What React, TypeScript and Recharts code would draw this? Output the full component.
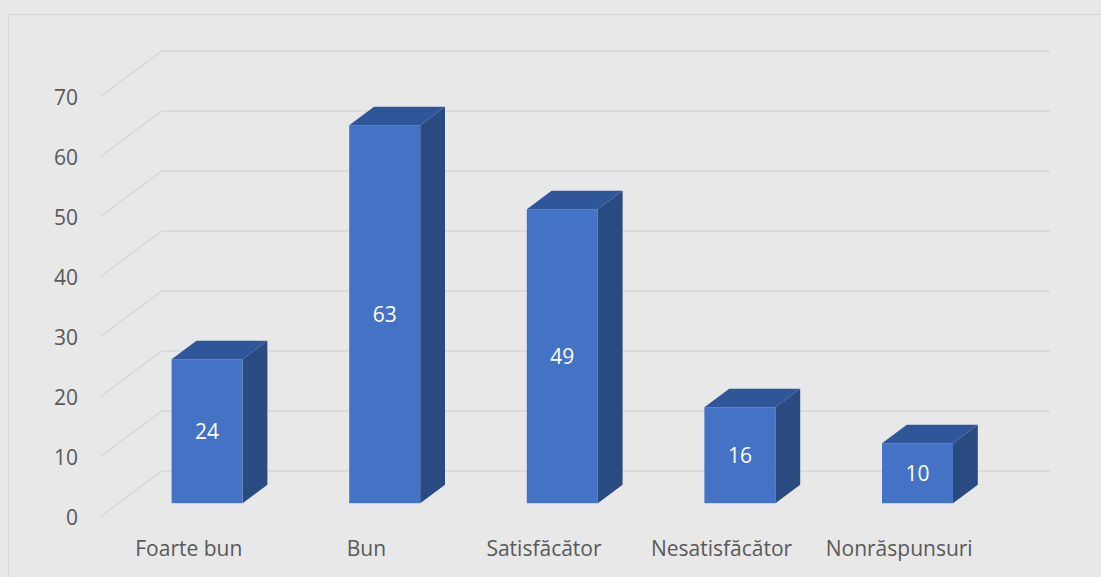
import { BarChart, Bar, XAxis, YAxis, CartesianGrid, LabelList } from 'recharts';

const categories = ['Foarte bun', 'Bun', 'Satisfăcător', 'Nesatisfăcător', 'Nonrăspunsuri'];
const values = [24, 63, 49, 16, 10];
const yTicks = [0, 10, 20, 30, 40, 50, 60, 70];

const data = categories.map((name, i) => ({ name, value: values[i] }));

// perspective offsets (floor depth) and bar placement in depth
const DEPTH_X = 62;
const DEPTH_Y = 46;
const BAR_FRONT = 0.3;
const BAR_DEPTH = 0.4;

const FONT = '"Open Sans", "Noto Sans", sans-serif';
const TEXT = '#595959';
const GRID = '#d6d6d6';

function GridLine(props: any) {
  const { x1, x2, y1 } = props;
  const pts = `${x1},${y1} ${x1 + DEPTH_X},${y1 - DEPTH_Y} ${x2 + DEPTH_X},${y1 - DEPTH_Y}`;
  return <polyline key={props.key ?? `g-${y1}`} points={pts} fill="none" stroke={GRID} strokeWidth={1.3} />;
}

function Box3D(props: any) {
  const { x, y, width, height } = props;
  const fx = x + DEPTH_X * BAR_FRONT;
  const fy = y - DEPTH_Y * BAR_FRONT;
  const dx = DEPTH_X * BAR_DEPTH;
  const dy = DEPTH_Y * BAR_DEPTH;
  const top = `${fx},${fy} ${fx + dx},${fy - dy} ${fx + width + dx},${fy - dy} ${fx + width},${fy}`;
  const side = `${fx + width},${fy} ${fx + width + dx},${fy - dy} ${fx + width + dx},${fy + height - dy} ${fx + width},${fy + height}`;
  return (
    <g>
      <polygon points={side} fill="#2a4a82" />
      <polygon points={top} fill="#30569a" />
      <rect x={fx} y={fy} width={width} height={height} fill="#4472c4" />
    </g>
  );
}

function BarLabel(props: any) {
  const { x, y, width, height, value } = props;
  const cx = x + DEPTH_X * BAR_FRONT + width / 2;
  const cy = y - DEPTH_Y * BAR_FRONT + height / 2;
  return (
    <text x={cx} y={cy} textAnchor="middle" dominantBaseline="central" fill="#ffffff" fontSize={21} fontFamily={FONT}>
      {value}
    </text>
  );
}

function YTick(props: any) {
  const { y, payload } = props;
  return (
    <text x={78} y={y} textAnchor="end" dominantBaseline="central" fill={TEXT} fontSize={21} fontFamily={FONT}>
      {payload.value}
    </text>
  );
}

function XTick(props: any) {
  const { x, payload } = props;
  return (
    <text x={x} y={548} textAnchor="middle" dominantBaseline="central" fill={TEXT} fontSize={21} fontFamily={FONT}>
      {payload.value}
    </text>
  );
}

export default function App() {
  return (
    <div style={{ position: 'absolute', left: 0, top: 0, width: 1101, height: 577, background: '#e8e8e8', overflow: 'hidden' }}>
      <div style={{ position: 'absolute', left: 8, top: 14, width: 1200, height: 700, border: '1px solid #d6d6d6' }} />
      <div style={{ position: 'absolute', left: 0, top: 0 }}>
        <BarChart width={1101} height={577} data={data} margin={{ top: 97, right: 113, bottom: 0, left: 0 }} barSize={71}>
          <CartesianGrid vertical={false} horizontal={GridLine} />
          <XAxis dataKey="name" height={60} axisLine={false} tickLine={false} tickSize={0} tick={XTick} interval={0} />
          <YAxis width={100} domain={[0, 70]} ticks={yTicks} axisLine={false} tickLine={false} tickSize={0} tick={YTick} />
          <Bar dataKey="value" shape={Box3D} isAnimationActive={false}>
            <LabelList dataKey="value" content={BarLabel} />
          </Bar>
        </BarChart>
      </div>
    </div>
  );
}
